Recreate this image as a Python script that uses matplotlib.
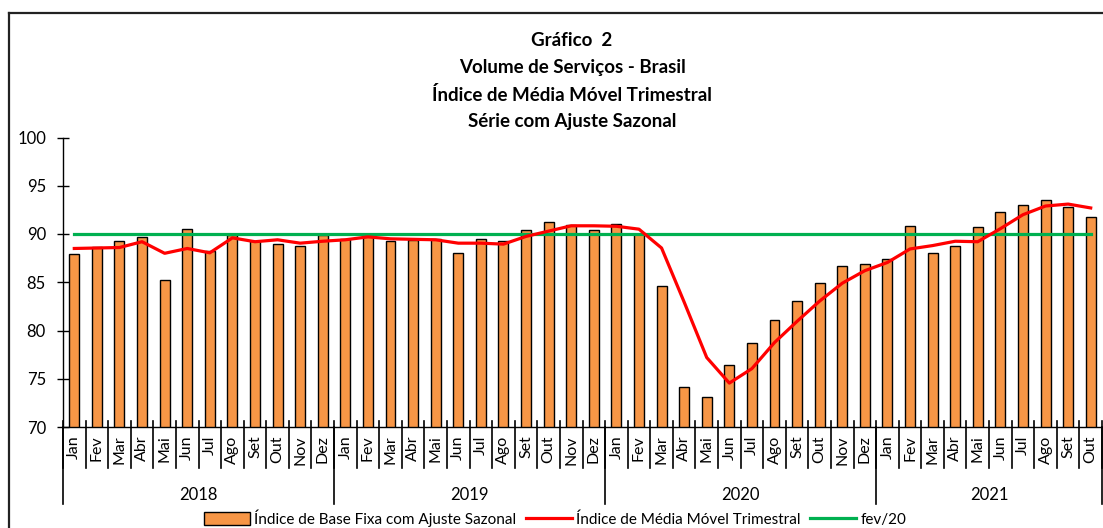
import matplotlib
matplotlib.use("Agg")
import matplotlib.pyplot as plt
import matplotlib.transforms as mtransforms
from matplotlib.lines import Line2D
from matplotlib.patches import Patch
import numpy as np

plt.rcParams['font.family'] = ['Lato', 'DejaVu Sans']

months = ["Jan", "Fev", "Mar", "Abr", "Mai", "Jun", "Jul", "Ago", "Set", "Out", "Nov", "Dez"]
years = ["2018", "2019", "2020", "2021"]
month_labels = months * 3 + months[:10]

base_fixa = [87.9, 88.66, 89.28, 89.66, 85.27, 90.53, 88.25, 89.94, 89.3, 88.97, 88.77, 89.94,
             89.53, 89.77, 89.28, 89.42, 89.53, 88.07, 89.53, 89.28, 90.39, 91.25, 90.94, 90.39,
             91.05, 90.0, 84.62, 74.14, 73.07, 76.39, 78.67, 81.13, 83.03, 84.96, 86.69, 86.87,
             87.42, 90.87, 88.07, 88.77, 90.70, 92.29, 92.98, 93.50, 92.81, 91.77]

media_movel = [88.5, 88.55, 88.6, 89.2, 88.0, 88.5, 88.05, 89.6, 89.2, 89.4, 89.05, 89.25,
               89.4, 89.7, 89.5, 89.45, 89.4, 89.05, 89.05, 88.95, 89.75, 90.3, 90.85, 90.85,
               90.8, 90.5, 88.55, 82.95, 77.2, 74.55, 76.05, 78.75, 80.95, 83.05, 84.9, 86.2,
               87.05, 88.45, 88.8, 89.25, 89.2, 90.55, 92.0, 92.9, 93.1, 92.7]

fev20_value = 89.95
fev20 = [fev20_value] * len(base_fixa)

W, H = 1103, 528
fig = plt.figure(figsize=(W / 100, H / 100), dpi=100)
ax = fig.add_axes([63 / W, 1 - 427 / H, (1102 - 63) / W, (427 - 137.5) / H])

x = np.arange(len(base_fixa))
ax.bar(x, base_fixa, width=0.44, color="#F79646", edgecolor="black", linewidth=1.0, zorder=2)
ax.plot(x, media_movel, color="#FF0000", linewidth=2.3, zorder=4)
ax.plot(x, fev20, color="#00B050", linewidth=2.3, zorder=3)

ax.set_xlim(-0.5, len(base_fixa) - 0.5)
ax.set_ylim(70, 100)
ax.set_yticks([70, 75, 80, 85, 90, 95, 100])
ax.tick_params(axis='y', direction='inout', length=8.5, width=1.0, pad=8, labelsize=12)
for s in ["top", "right"]:
    ax.spines[s].set_visible(False)
ax.spines["left"].set_linewidth(1.0)
ax.spines["bottom"].set_linewidth(1.0)

ax.set_xticks(x)
ax.set_xticklabels(month_labels, rotation=90, fontsize=11.5)
ax.tick_params(axis='x', length=0, pad=6)

trans = mtransforms.blended_transform_factory(ax.transData, ax.transAxes)
ax_h = 427 - 137.5
for b in np.arange(-0.5, len(base_fixa), 1.0):
    ax.add_line(Line2D([b, b], [6 / ax_h, -41 / ax_h], transform=trans, color="black",
                       linewidth=1.2, clip_on=False))
year_bounds = [-0.5, 11.5, 23.5, 35.5, len(base_fixa) - 0.5]
for b in year_bounds:
    ax.add_line(Line2D([b, b], [0, -77 / ax_h], transform=trans, color="black",
                       linewidth=1.2, clip_on=False))
for i, yr in enumerate(years):
    cx = (year_bounds[i] + year_bounds[i + 1]) / 2
    ax.text(cx, -68 / ax_h, yr, transform=trans, ha="center", va="center", fontsize=12)

titles = ["Gráfico  2", "Volume de Serviços - Brasil", "Índice de Média Móvel Trimestral",
          "Série com Ajuste Sazonal"]
title_y = [41, 68, 95, 122]
for t, yy in zip(titles, title_y):
    fig.text(572 / W, 1 - yy / H, t, ha="center", va="center", fontsize=13.5, fontweight="bold")

# frame
fig.add_artist(Line2D([9 / W, 9 / W], [0, 1 - 13 / H], color="#222222", linewidth=1.6))
fig.add_artist(Line2D([9 / W, 1], [1 - 13 / H, 1 - 13 / H], color="#222222", linewidth=1.6))

handles = [Patch(facecolor="#F79646", edgecolor="black", linewidth=1.0),
           Line2D([], [], color="#FF0000", linewidth=2.3),
           Line2D([], [], color="#00B050", linewidth=2.3)]
labels = ["Índice de Base Fixa com Ajuste Sazonal", "Índice de Média Móvel Trimestral", "fev/20"]
fig.legend(handles, labels, loc="center", bbox_to_anchor=(555 / W, 1 - 518 / H), ncol=3,
           frameon=False, handlelength=3.0, handleheight=0.9, columnspacing=0.6,
           handletextpad=0.3, borderpad=0,
           prop={'family': ['Lato', 'DejaVu Sans'], 'size': 11})

fig.savefig("out.png", dpi=100)
